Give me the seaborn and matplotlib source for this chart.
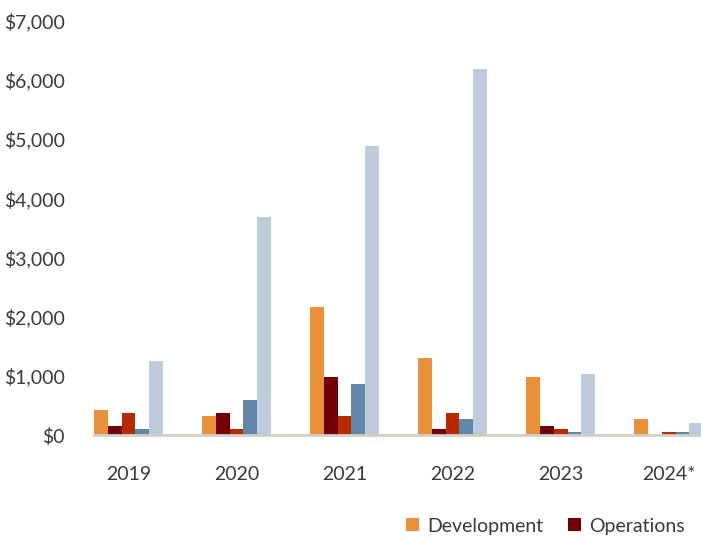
import pandas as pd
import matplotlib.pyplot as plt
import seaborn as sns

years = ['2019', '2020', '2021', '2022', '2023', '2024*']
series = ['Development', 'Operations', 'Series 3', 'Series 4', 'Series 5']
development = [425, 325, 2160, 1300, 980, 275]
operations = [155, 375, 980, 105, 155, 0]
series_3 = [375, 105, 325, 375, 105, 55]
series_4 = [105, 595, 865, 275, 55, 55]
series_5 = [1250, 3690, 4890, 6185, 1030, 205]
colors = ['#E8913A', '#730009', '#B52A00', '#6387AA', '#BCCCDB']

rows = []
for name, vals in zip(series, [development, operations, series_3, series_4, series_5]):
    for yr, v in zip(years, vals):
        rows.append({'year': yr, 'series': name, 'value': v})
df = pd.DataFrame(rows)

sns.set_style('white')
plt.rcParams['font.family'] = ['Lato', 'DejaVu Sans']
text_color = '#3a3a3a'

fig = plt.figure(figsize=(7.01, 5.39), dpi=100)
ax = fig.add_axes([94 / 701, (539 - 435.3) / 539, 1 - 94 / 701, (435.3 - 20.5) / 539])

sns.barplot(data=df, x='year', y='value', hue='series', order=years, hue_order=series,
            palette=colors, width=0.64, saturation=1, linewidth=0, ax=ax)
# crisp bar edges, no light seams between neighbouring bars
for p in ax.patches:
    p.set_antialiased(False)

ax.set_xlim(-0.32, 5.30)
ax.set_ylim(0, 7000)
ax.set_yticks(range(0, 7001, 1000))
ax.set_yticklabels([f'${v:,}' for v in range(0, 7001, 1000)])
ax.set_xlabel('')
ax.set_ylabel('')
ax.tick_params(axis='y', length=0, pad=21, labelsize=14, labelcolor=text_color)
ax.tick_params(axis='x', length=0, pad=22, labelsize=14, labelcolor=text_color)
for side in ['top', 'right', 'left']:
    ax.spines[side].set_visible(False)
ax.spines['bottom'].set_color('#D0CFC8')
ax.spines['bottom'].set_linewidth(2)

handles, labels = ax.get_legend_handles_labels()
ax.legend_.remove()
fig.legend(handles[:2], labels[:2], loc='center right', bbox_to_anchor=(0.99, 0.024),
           ncol=2, frameon=False, fontsize=14, handlelength=0.67, handleheight=0.67,
           handletextpad=0.38, columnspacing=1.3, borderpad=0, labelcolor=text_color)

fig.savefig('out.png', dpi=100)
